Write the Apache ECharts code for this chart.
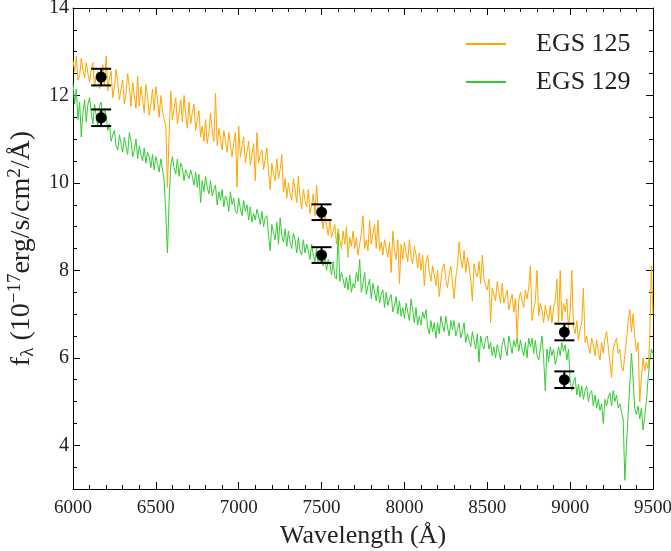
<!DOCTYPE html>
<html>
<head>
<meta charset="utf-8">
<script src="https://cdn.jsdelivr.net/npm/echarts@6/dist/echarts.min.js"></script>
<style>html,body{margin:0;padding:0;background:#fff}#c{width:671px;height:551px}</style>
</head>
<body>
<div id="c"></div>
<script>
// Wavelength grid (Å): start and step of the spectra samples
const waveStart = 6000;
const waveStep = 10;

// EGS 125 flux (1e-17 erg/s/cm^2/Å), one value per 10 Å from 6000 to 9500
const egs125 = [
  12.8,12.55,12.9,12.35,12.45,12.85,12.6,12.4,12.75,12.5,
  12.3,12.6,12.75,12.2,12.45,12.55,12.15,12.35,12.7,12.25,
  12.9,12.1,12.4,12.55,11.95,12.2,12.6,12.3,11.9,12.15,
  12.35,11.8,12.05,12.5,12.2,11.75,12.3,12.0,11.7,12.45,
  11.75,12.2,11.9,11.6,12.25,12.0,11.55,11.8,12.15,11.65,
  12.2,11.9,11.5,12.0,11.65,11.45,11.3,9.9,11.1,12.1,
  11.45,11.7,11.95,11.35,11.6,11.9,11.4,12.0,11.55,11.25,
  11.85,11.35,11.6,11.8,11.2,11.45,11.65,11.05,11.3,10.95,
  11.45,10.9,11.15,11.6,11.2,10.95,12.05,10.85,11.25,11.0,
  10.75,11.2,10.95,10.7,11.15,10.85,10.6,10.9,11.15,9.9,
  11.3,10.6,10.85,11.05,10.45,10.7,10.95,10.4,10.65,10.9,
  10.05,11.15,10.45,10.65,10.75,10.3,10.55,10.8,10.25,9.85,
  10.45,10.2,10.05,10.55,10.1,10.3,10.65,9.8,10.1,9.65,
  10.0,9.75,9.6,10.1,9.85,9.55,10.15,9.7,9.4,9.85,
  9.6,9.45,9.85,9.3,9.5,9.75,9.25,9.95,9.35,9.15,
  9.2,8.95,9.3,9.05,8.8,9.15,8.75,8.9,9.05,8.6,
  8.95,8.7,8.5,8.9,8.6,9.0,8.3,8.75,8.55,8.9,
  8.5,8.75,8.35,8.6,8.85,9.25,8.5,8.7,8.45,9.15,
  8.6,8.85,9.05,8.5,9.15,8.45,8.65,8.35,8.7,8.5,
  8.3,8.65,7.95,8.9,8.45,8.25,8.7,7.7,8.6,8.25,
  8.65,8.4,8.2,8.7,8.3,8.15,8.55,8.35,8.05,8.4,
  8.0,8.35,7.65,8.2,8.35,7.95,7.75,8.1,7.9,7.65,
  8.0,7.4,7.75,8.05,8.15,7.8,7.6,7.9,8.1,7.75,
  7.35,7.85,8.1,8.65,8.25,8.05,8.45,7.95,8.3,8.1,
  7.8,7.3,8.15,7.95,7.85,8.2,7.7,8.35,7.8,7.65,
  7.55,7.8,6.8,7.6,7.45,7.3,7.75,7.5,7.25,7.7,
  7.25,7.4,7.55,7.1,7.3,7.45,7.05,7.35,6.45,7.3,
  7.5,7.3,7.15,7.55,7.35,7.6,8.1,6.85,7.1,7.3,
  8.0,6.95,7.25,7.1,6.8,7.2,7.0,6.85,7.2,6.8,
  7.15,7.3,7.8,6.75,8.0,6.85,7.25,7.05,7.35,6.65,
  7.05,8.0,6.7,6.55,6.85,6.4,6.65,6.8,7.6,6.35,
  6.5,6.25,6.1,6.45,6.3,6.05,6.4,6.15,5.95,6.35,
  6.1,6.45,6.6,6.25,5.9,5.55,6.2,6.35,6.45,6.1,
  6.2,5.8,5.7,6.05,6.4,6.85,7.1,6.6,7.0,6.5,
  6.15,6.35,5.0,5.55,6.0,5.7,5.9,5.75,6.4,8.1,
  7.0
];

// EGS 129 flux
const egs129 = [
  12.3,11.8,12.15,11.45,11.85,11.05,11.6,11.9,11.4,11.8,
  11.95,11.6,11.35,11.8,11.55,11.3,11.75,11.85,11.45,11.7,
  11.55,11.2,11.35,10.95,11.1,11.2,10.85,10.75,11.1,10.9,
  10.7,11.05,10.85,10.65,11.15,10.95,10.6,10.75,11.0,10.55,
  10.85,10.65,10.5,10.8,10.45,10.7,10.6,10.35,10.65,10.3,
  10.6,10.45,10.25,10.55,10.3,10.05,9.3,8.4,9.6,10.4,
  10.6,10.35,10.2,10.55,10.15,10.45,10.35,10.05,10.3,10.2,
  10.1,10.3,10.15,9.95,10.25,9.9,10.2,9.55,10.05,9.8,
  10.15,9.9,9.75,10.05,9.7,9.85,9.95,9.5,9.8,9.6,
  9.85,9.45,9.7,9.6,9.35,9.8,9.5,9.65,9.35,9.3,
  9.65,9.4,9.25,9.6,9.35,9.5,9.15,9.45,9.1,9.3,
  9.15,9.4,9.25,9.05,9.35,9.0,9.2,9.25,8.8,8.45,
  9.05,8.85,8.7,9.1,8.6,9.2,8.8,8.65,8.95,8.55,
  8.9,8.65,8.5,8.85,8.7,8.4,8.75,8.45,8.35,8.7,
  8.4,8.6,8.45,8.25,8.6,8.35,8.2,8.5,8.15,8.3,
  8.45,8.1,8.3,8.0,8.25,8.15,7.9,8.2,7.85,7.8,
  8.85,7.75,7.95,7.8,7.6,7.85,7.55,7.9,7.5,7.7,
  7.6,7.95,7.75,8.25,7.5,7.7,7.95,7.45,7.65,7.8,
  7.35,7.7,7.5,7.3,7.65,7.25,7.45,7.55,7.15,7.5,
  7.2,7.35,7.45,7.05,7.2,7.4,7.0,7.3,6.95,7.15,
  6.9,7.25,7.05,6.85,7.35,7.1,6.8,7.15,6.75,6.95,
  6.75,7.05,6.9,7.1,6.7,6.55,6.85,6.6,6.8,6.45,
  6.8,6.55,6.95,6.75,6.6,6.95,6.7,6.5,6.85,6.65,
  6.85,6.5,6.65,6.8,6.45,6.6,6.8,6.35,6.55,6.4,
  6.25,6.6,6.4,6.2,6.55,5.9,6.5,6.3,6.2,6.45,
  6.5,6.2,6.35,6.05,6.25,6.0,6.3,6.15,5.95,6.3,
  6.45,6.2,6.05,6.5,6.3,6.1,6.4,6.25,6.45,6.15,
  6.4,6.2,6.05,6.35,6.0,6.45,6.25,6.45,6.1,6.4,
  6.05,5.95,6.2,6.5,6.0,5.25,6.2,5.9,6.25,6.05,
  6.2,5.85,6.0,6.25,6.05,6.35,6.15,6.3,5.95,6.2,
  5.5,5.25,5.45,5.55,5.15,5.4,5.1,5.35,5.05,5.25,
  5.35,5.0,5.2,5.25,4.9,5.15,4.85,5.05,4.8,4.95,
  4.5,5.05,4.9,5.1,5.2,4.9,5.25,5.0,5.15,4.85,
  4.95,4.75,4.6,3.2,4.0,4.7,5.4,6.1,5.5,4.85,
  4.7,4.9,4.6,4.85,4.35,4.65,5.0,5.5,5.9,6.2,
  6.1
];

// Photometric points: wavelength, flux, error
const photWave = [6170, 6170, 7500, 7500, 8965, 8965];
const photFlux = [12.42, 11.49, 9.33, 8.35, 6.59, 5.50];
const photErr  = [0.19, 0.19, 0.18, 0.18, 0.19, 0.19];

const seriesNames = ['EGS 125', 'EGS 129'];
const seriesColors = ['#FFA500', '#33CC33'];
const yTicks = [4, 6, 8, 10, 12, 14];
const yMinorTicks = [3, 3.5, 4.5, 5, 5.5, 6.5, 7, 7.5, 8.5, 9, 9.5, 10.5, 11, 11.5, 12.5, 13, 13.5];

function toPairs(vals) {
  return vals.map((v, i) => [waveStart + i * waveStep, v]);
}

const FONT = 'Liberation Serif';
const TXT = '#222';
const chart = echarts.init(document.getElementById('c'), null, {renderer: 'canvas'});

const baseX = {
  type: 'value', min: 6000, max: 9500, interval: 500,
  axisLine: {show: true, onZero: false, lineStyle: {color: '#000', width: 1}},
  splitLine: {show: false}
};
const baseY = {
  type: 'value', min: 3, max: 14,
  axisLine: {show: true, onZero: false, lineStyle: {color: '#000', width: 1}},
  splitLine: {show: false}
};

const option = {
  animation: false,
  backgroundColor: '#fff',
  grid: {left: 73, right: 18, top: 8, bottom: 62, containLabel: false, outerBoundsMode: 'none'},
  legend: {
    orient: 'vertical', left: 461, top: 26, itemWidth: 40, itemHeight: 2, itemGap: 12,
    icon: 'rect',
    data: seriesNames,
    textStyle: {fontFamily: FONT, fontSize: 26, color: TXT, padding: [0, 0, 0, 25], lineHeight: 26}
  },
  xAxis: [
    Object.assign({}, baseX, {
      position: 'bottom',
      axisTick: {show: true, inside: true, length: 7, lineStyle: {color: '#000'}},
      minorTick: {show: true, splitNumber: 5, length: 4, lineStyle: {color: '#000'}},
      axisLabel: {show: true, margin: 10, fontFamily: FONT, fontSize: 19, color: TXT,
        formatter: v => String(v)},
      name: 'Wavelength (Å)', nameLocation: 'middle', nameGap: 31,
      nameTextStyle: {fontFamily: FONT, fontSize: 26, color: TXT}
    }),
    Object.assign({}, baseX, {
      position: 'top',
      axisTick: {show: true, inside: true, length: 7, lineStyle: {color: '#000'}},
      minorTick: {show: true, splitNumber: 5, length: 4, lineStyle: {color: '#000'}},
      axisLabel: {show: false}
    })
  ],
  yAxis: [
    Object.assign({}, baseY, {
      position: 'left',
      axisTick: {show: true, inside: true, length: 7, customValues: yTicks, lineStyle: {color: '#000'}},
      axisLabel: {show: true, customValues: yTicks, margin: 4, fontFamily: FONT, fontSize: 20, color: TXT,
        formatter: v => String(v)},
      name: '{a|f}{s|λ}{a| (10}{p|−17}{a|erg/s/cm}{p|2}{a|/Å)}',
      nameLocation: 'middle', nameGap: 26, nameRotate: 90,
      nameTextStyle: {
        fontFamily: FONT, fontSize: 28, color: TXT,
        rich: {
          a: {fontFamily: FONT, fontSize: 28, color: TXT, lineHeight: 34},
          s: {fontFamily: FONT, fontSize: 19, color: TXT, lineHeight: 34, padding: [12, 0, 0, 0]},
          p: {fontFamily: FONT, fontSize: 19, color: TXT, lineHeight: 34, padding: [0, 0, 14, 0]}
        }
      }
    }),
    Object.assign({}, baseY, {
      position: 'left',
      axisLine: {show: false},
      axisTick: {show: true, inside: true, length: 4, customValues: yMinorTicks, lineStyle: {color: '#000'}},
      axisLabel: {show: false}
    }),
    Object.assign({}, baseY, {
      position: 'right',
      axisTick: {show: true, inside: true, length: 7, customValues: yTicks, lineStyle: {color: '#000'}},
      axisLabel: {show: false}
    }),
    Object.assign({}, baseY, {
      position: 'right',
      axisLine: {show: false},
      axisTick: {show: true, inside: true, length: 4, customValues: yMinorTicks, lineStyle: {color: '#000'}},
      axisLabel: {show: false}
    })
  ],
  series: [
    {
      name: seriesNames[0], type: 'line', data: toPairs(egs125), symbol: 'none',
      lineStyle: {color: seriesColors[0], width: 1}, itemStyle: {color: seriesColors[0]}, z: 2
    },
    {
      name: seriesNames[1], type: 'line', data: toPairs(egs129), symbol: 'none',
      lineStyle: {color: seriesColors[1], width: 1}, itemStyle: {color: seriesColors[1]}, z: 3
    },
    {
      type: 'custom', z: 5,
      data: photWave.map((w, i) => [w, photFlux[i] - photErr[i], photFlux[i] + photErr[i]]),
      renderItem: function (params, api) {
        const lo = api.coord([api.value(0), api.value(1)]);
        const hi = api.coord([api.value(0), api.value(2)]);
        const hw = 10;
        const st = {stroke: '#000', lineWidth: 2};
        return {
          type: 'group',
          children: [
            {type: 'line', shape: {x1: lo[0], y1: lo[1], x2: hi[0], y2: hi[1]}, style: st},
            {type: 'line', shape: {x1: lo[0] - hw, y1: lo[1], x2: lo[0] + hw, y2: lo[1]}, style: st},
            {type: 'line', shape: {x1: hi[0] - hw, y1: hi[1], x2: hi[0] + hw, y2: hi[1]}, style: st}
          ]
        };
      }
    },
    {
      type: 'scatter', z: 6, symbol: 'circle', symbolSize: 11,
      data: photWave.map((w, i) => [w, photFlux[i]]),
      itemStyle: {color: '#000', opacity: 1}
    }
  ]
};
chart.setOption(option);
</script>
</body>
</html>
